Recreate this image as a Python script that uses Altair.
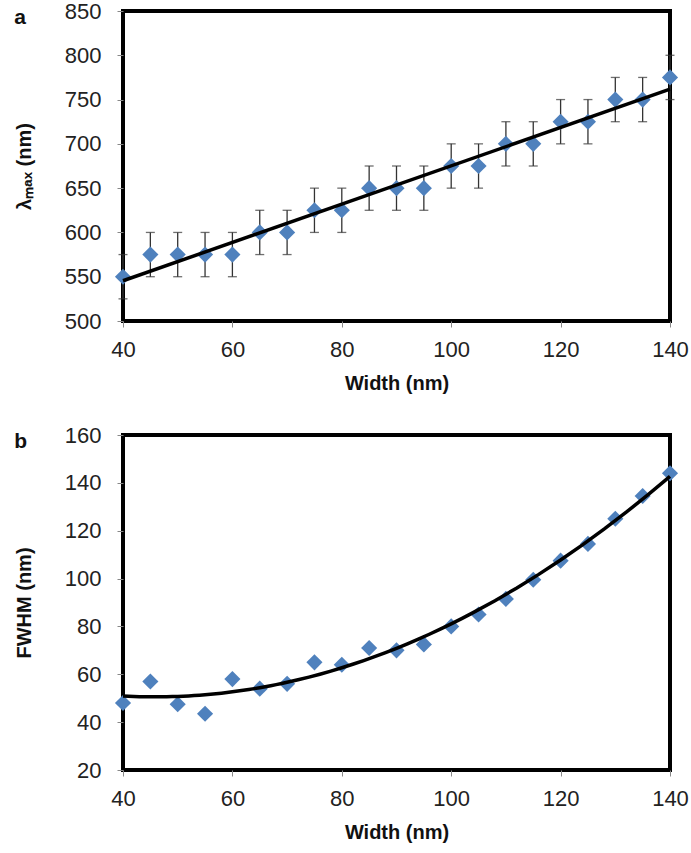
import altair as alt
import pandas as pd

widths = [40, 45, 50, 55, 60, 65, 70, 75, 80, 85, 90, 95, 100, 105, 110, 115, 120, 125, 130, 135, 140]
lam_max = [550, 575, 575, 575, 575, 600, 600, 625, 625, 650, 650, 650, 675, 675, 700, 700, 725, 725, 750, 750, 775]
lam_err = [25] * 21
fwhm = [48, 57, 47.5, 43.5, 58, 54, 56, 65, 64, 71, 70, 72.5, 80, 85, 91.5, 99.5, 107.5, 114.5, 125, 134.5, 144]

x_ticks = [40, 60, 80, 100, 120, 140]
ya_ticks = [500, 550, 600, 650, 700, 750, 800, 850]
yb_ticks = [20, 40, 60, 80, 100, 120, 140, 160]

BLUE = "#4F81BD"
FONT = "Liberation Sans"

dfa = pd.DataFrame({"w": widths, "v": lam_max,
                    "lo": [v - e for v, e in zip(lam_max, lam_err)],
                    "hi": [v + e for v, e in zip(lam_max, lam_err)]})
dfb = pd.DataFrame({"w": widths, "v": fwhm})

xenc = alt.X("w:Q", title="Width (nm)",
             scale=alt.Scale(domain=[40, 140], nice=False, zero=False),
             axis=alt.Axis(values=x_ticks, labelFlush=False))


def yenc(title, dom, ticks):
    return alt.Y("v:Q", title=title,
                 scale=alt.Scale(domain=dom, nice=False, zero=False),
                 axis=alt.Axis(values=ticks, labelFlush=False))


# panel a
base_a = alt.Chart(dfa)
rules = base_a.mark_rule(color="#333333", strokeWidth=1.3).encode(
    x=xenc, y=alt.Y("lo:Q"), y2="hi:Q")
caps_lo = base_a.mark_tick(color="#333333", orient="horizontal", size=9, thickness=1.3).encode(
    x="w:Q", y="lo:Q")
caps_hi = base_a.mark_tick(color="#333333", orient="horizontal", size=9, thickness=1.3).encode(
    x="w:Q", y="hi:Q")
pts_a = base_a.mark_point(shape="diamond", filled=True, color=BLUE, size=260, opacity=1).encode(
    x=xenc, y=yenc("λₘₐₓ (nm)", [500, 850], ya_ticks))
fit_a = base_a.transform_regression("w", "v", method="linear", extent=[40, 140]).mark_line(
    color="black", strokeWidth=3.5).encode(x="w:Q", y="v:Q")

panel_a = alt.layer(rules, caps_lo, caps_hi, pts_a, fit_a).properties(
    width=547, height=310,
    title=alt.TitleParams("a", anchor="start", frame="bounds", fontSize=21,
                          fontWeight="bold", font=FONT, color="#111111", dy=28, offset=0))

# panel b
base_b = alt.Chart(dfb)
pts_b = base_b.mark_point(shape="diamond", filled=True, color=BLUE, size=260, opacity=1).encode(
    x=xenc, y=yenc("FWHM (nm)", [20, 160], yb_ticks))
fit_b = base_b.transform_regression("w", "v", method="poly", order=2, extent=[40, 140]).mark_line(
    color="black", strokeWidth=3.5).encode(x="w:Q", y="v:Q")

panel_b = alt.layer(pts_b, fit_b).properties(
    width=547, height=335,
    title=alt.TitleParams("b", anchor="start", frame="bounds", fontSize=21,
                          fontWeight="bold", font=FONT, color="#111111", dy=28, offset=0))

chart = alt.vconcat(panel_a, panel_b, spacing=27).properties(
    padding={"left": 12, "top": -2, "right": 0, "bottom": 4}
).configure_view(
    stroke="black", strokeWidth=4
).configure_axis(
    domain=False, grid=False,
    ticks=True, tickColor="#888888", tickSize=6, tickWidth=1,
    labelFont=FONT, labelFontSize=22, labelColor="#222222",
    titleFont=FONT, titleFontSize=20, titleFontWeight="bold", titleColor="#111111",
).configure_axisY(titlePadding=30, labelPadding=16).configure_axisX(titlePadding=13, labelPadding=12)

chart.save("out.html", embed_options={"renderer": "svg", "actions": False})
